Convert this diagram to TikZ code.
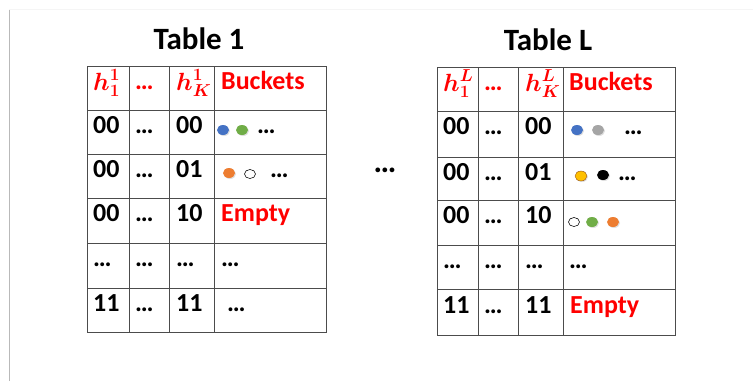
\documentclass[tikz,border=0pt]{standalone}
\usepackage{fontspec}
\usepackage{amsmath}
\usepackage{bm}
\setmainfont{Carlito}
\usetikzlibrary{shapes.geometric,shadows}
\definecolor{hashred}{HTML}{FF0000}
\definecolor{ballblue}{HTML}{4472C4}
\definecolor{ballgreen}{HTML}{70AD47}
\definecolor{ballorange}{HTML}{ED7D31}
\definecolor{ballgray}{HTML}{A5A5A5}
\definecolor{ballyellow}{HTML}{FFC000}

\begin{document}
\begin{tikzpicture}[
    x=1pt, y=-1pt,
    title/.style={anchor=base, inner sep=0pt, font=\fontsize{31}{36}\selectfont\bfseries},
    cell/.style={anchor=base west, inner sep=0pt, font=\fontsize{26}{30}\selectfont\bfseries},
    headcell/.style={cell, text=hashred},
    hashcell/.style={headcell, font=\fontsize{25}{30}\selectfont},
    ball/.style={ellipse, minimum width=12pt, minimum height=10pt, inner sep=0pt, draw=none,
        drop shadow={opacity=0.25, shadow xshift=1pt, shadow yshift=-1pt}},
    hollow/.style={ellipse, minimum width=11pt, minimum height=9pt, inner sep=0pt, draw=black, line width=0.6pt, fill=white},
    tableline/.style={draw=gray!60!black, line width=0.8pt}
]
\useasboundingbox (0,0) rectangle (753,381);

% Frame
\draw[gray!55] (9,381) -- (9,9);
\draw[gray!8] (9,9) -- (753,9);

% Table 1 grid
\draw[tableline] (87,66) rectangle (326,332);
\foreach \y in {110,154,198,243,288} \draw[tableline] (87,\y) -- (326,\y);
\foreach \x in {129,169,214} \draw[tableline] (\x,66) -- (\x,332);

% Table L grid
\draw[tableline] (437,67) rectangle (675,335);
\foreach \y in {111,157,200,245,289} \draw[tableline] (437,\y) -- (675,\y);
\foreach \x in {478,518,563} \draw[tableline] (\x,67) -- (\x,335);

% Titles
\node[title] (title1) at (199,49) {Table 1};
\node[title] (titleL) at (548,50) {Table L};

% Table 1 cells
\node[hashcell] (t1h1) at (93,90) {$\boldsymbol{h_1^1}$};
\node[headcell] (t1hd) at (135,89) {…};
\node[hashcell] (t1hk) at (176,90) {$\boldsymbol{h_K^1}$};
\node[headcell] (t1hb) at (221,89) {Buckets};

\node[cell] (t1a1) at (93,133) {00};
\node[cell] (t1a2) at (135,133) {…};
\node[cell] (t1a3) at (176,133) {00};
\node[ball, fill=ballblue] (t1a4) at (223,130) {};
\node[ball, fill=ballgreen] (t1a5) at (242,130) {};
\node[cell] (t1a6) at (257,133) {…};

\node[cell] (t1b1) at (93,177) {00};
\node[cell] (t1b2) at (135,177) {…};
\node[cell] (t1b3) at (176,177) {01};
\node[ball, fill=ballorange] (t1b4) at (229,173) {};
\node[hollow] (t1b5) at (250,174) {};
\node[cell] (t1b6) at (270,177) {…};

\node[cell] (t1c1) at (93,221) {00};
\node[cell] (t1c2) at (135,221) {…};
\node[cell] (t1c3) at (176,221) {10};
\node[headcell] (t1c4) at (221,221) {Empty};

\node[cell] (t1d1) at (93,266) {…};
\node[cell] (t1d2) at (135,266) {…};
\node[cell] (t1d3) at (176,266) {…};
\node[cell] (t1d4) at (221,266) {…};

\node[cell] (t1e1) at (93,311) {11};
\node[cell] (t1e2) at (135,311) {…};
\node[cell] (t1e3) at (176,311) {11};
\node[cell] (t1e4) at (227,311) {…};

% Between the tables
\node[cell, anchor=base, font=\fontsize{32}{36}\selectfont\bfseries] (between) at (385,172) {…};

% Table L cells
\node[hashcell] (tLh1) at (443,91) {$\boldsymbol{h_1^L}$};
\node[headcell] (tLhd) at (484,90) {…};
\node[hashcell] (tLhk) at (525,91) {$\boldsymbol{h_K^L}$};
\node[headcell] (tLhb) at (569,90) {Buckets};

\node[cell] (tLa1) at (443,134) {00};
\node[cell] (tLa2) at (484,134) {…};
\node[cell] (tLa3) at (525,134) {00};
\node[ball, fill=ballblue] (tLa4) at (577,130) {};
\node[ball, fill=ballgray] (tLa5) at (598,130) {};
\node[cell] (tLa6) at (624,134) {…};

\node[cell] (tLb1) at (443,180) {00};
\node[cell] (tLb2) at (484,180) {…};
\node[cell] (tLb3) at (525,180) {01};
\node[ball, fill=ballyellow, draw=ballorange!60!black, line width=0.4pt] (tLb4) at (581,176) {};
\node[ball, fill=black] (tLb5) at (603,175) {};
\node[cell] (tLb6) at (618,180) {…};

\node[cell] (tLc1) at (443,223) {00};
\node[cell] (tLc2) at (484,223) {…};
\node[cell] (tLc3) at (525,223) {10};
\node[hollow] (tLc4) at (574,222) {};
\node[ball, fill=ballgreen] (tLc5) at (592,222) {};
\node[ball, fill=ballorange] (tLc6) at (613,222) {};

\node[cell] (tLd1) at (443,268) {…};
\node[cell] (tLd2) at (484,268) {…};
\node[cell] (tLd3) at (525,268) {…};
\node[cell] (tLd4) at (569,268) {…};

\node[cell] (tLe1) at (443,313) {11};
\node[cell] (tLe2) at (484,313) {…};
\node[cell] (tLe3) at (525,313) {11};
\node[headcell] (tLe4) at (570,313) {Empty};

\end{tikzpicture}
\end{document}
